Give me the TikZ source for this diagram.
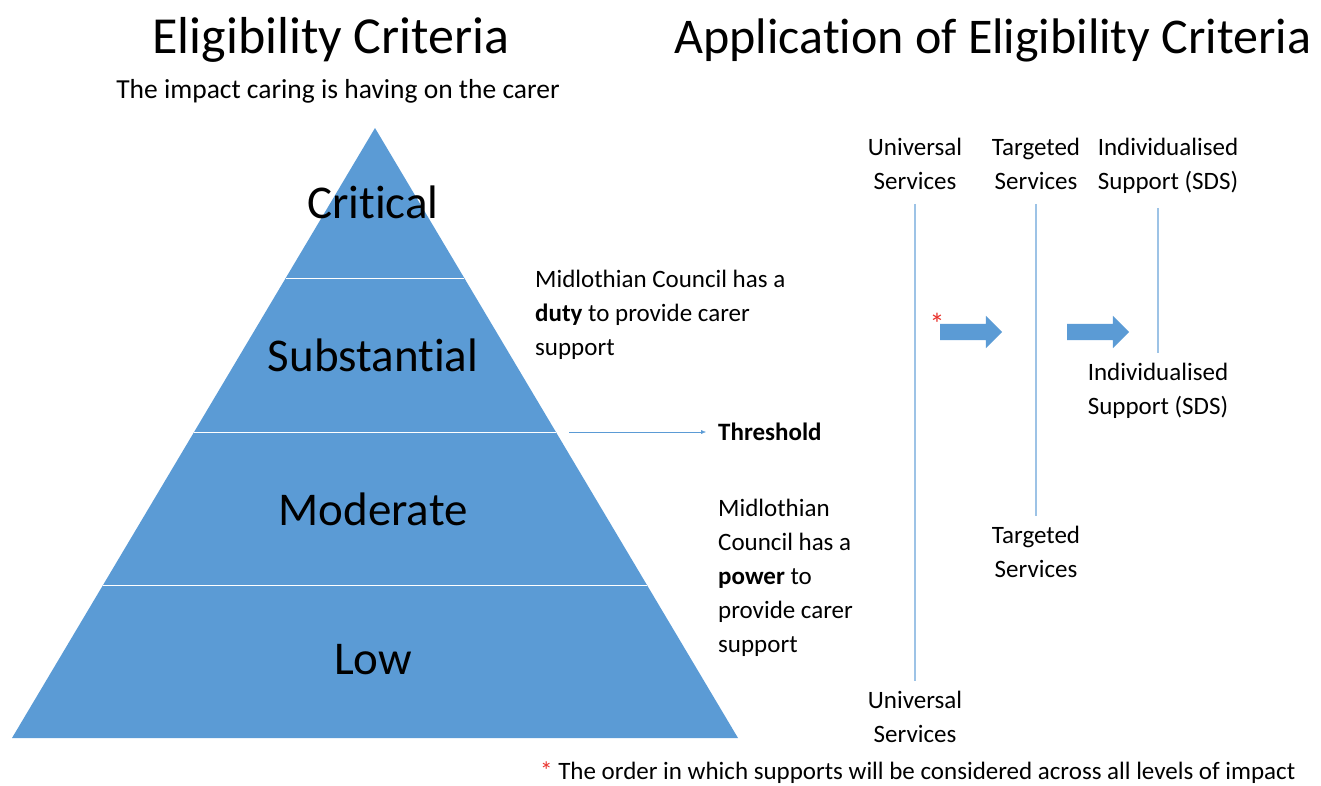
\documentclass[tikz,border=0pt]{standalone}
\usepackage{fontspec}
\setmainfont{Carlito}[RawFeature={-liga;-clig;-calt;-dlig}]
\usetikzlibrary{shapes.arrows,arrows.meta}
\definecolor{tierblue}{HTML}{5B9BD5}
\definecolor{lineblue}{HTML}{9DC3E6}
\definecolor{starred}{HTML}{E8302A}

\begin{document}
\begin{tikzpicture}
[
x=1pt, y=-1pt,
title/.style={font=\fontsize{50}{56}\selectfont, inner sep=0},
subtitle/.style={font=\fontsize{27.5}{30}\selectfont, inner sep=0},
tier/.style={font=\fontsize{47}{52}\selectfont, inner sep=0},
note/.style={font=\fontsize{25}{34}\selectfont, align=left, inner sep=0},
service/.style={font=\fontsize{25}{34}\selectfont, align=center, inner sep=0},
level/.style={draw=lineblue, line width=1.2pt},
flow/.style={single arrow, fill=tierblue, minimum height=62pt, text height=8pt, text depth=8pt,
             single arrow head extend=8pt, single arrow head indent=0pt, inner sep=0}
]
\useasboundingbox (0,0) rectangle (1321,785);

%Pyramid
\fill[tierblue] (375,128) -- (738,738) -- (12,738) -- cycle;
\draw[white, thin] (286,278) -- (464,278);
\draw[white, thin] (194,432) -- (556,432);
\draw[white, thin] (103,585) -- (647,585);

%Nodes
\node[title, font=\fontsize{52}{56}\selectfont] (crit_title) at (331,40) {Eligibility Criteria};
\node[subtitle] (impact)       at (338,91)    {The impact caring is having on the carer};
\node[title]    (app_title)    at (993,40)    {Application of Eligibility Criteria};

\node[tier]     (critical)     at (373,202)   {Critical};
\node[tier]     (substantial)  at (373,355)   {Substantial};
\node[tier]     (moderate)     at (373,509)   {Moderate};
\node[tier]     (low)          at (373,660)   {Low};

\node[note, anchor=west] (duty)      at (535,315) {Midlothian Council has a\\\textbf{duty} to provide carer\\support};
\node[note, anchor=west] (threshold) at (718,432) {\textbf{Threshold}};
\node[note, anchor=west] (power)     at (718,578) {Midlothian\\Council has a\\\textbf{power} to\\provide carer\\support};
\coordinate (edge) at (569,432);

\node[service]  (univ_top)     at (915,164)   {Universal\\Services};
\node[service]  (targ_top)     at (1036,164)  {Targeted\\Services};
\node[service]  (indiv_top)    at (1168,166)  {Individualised\\Support (SDS)};
\node[service]  (univ_bot)     at (915,717)   {Universal\\Services};
\node[service]  (targ_bot)     at (1036,552)  {Targeted\\Services};
\node[service]  (indiv_bot)    at (1158,391)  {Individualised\\Support (SDS)};

\node[flow]     (step_one)     at (967,332)   {};
\node[flow]     (step_two)     at (1094,332)  {};
\node[font=\fontsize{30}{30}\selectfont, text=starred, inner sep=0] (star) at (937,324) {*};

\node[font=\fontsize{25}{28}\selectfont, inner sep=0, anchor=west] (footnote) at (540,773)
  {\textcolor{starred}{*} The order in which supports will be considered across all levels of impact};

%Lines
\draw[tierblue, -{Latex[length=5pt,width=4pt]}] (edge) -- ([xshift=-12pt]threshold.west);
\draw[level, shorten <=14pt, shorten >=10pt] (univ_top.south) -- (univ_bot.north);
\draw[level, shorten <=14pt, shorten >=10pt] (targ_top.south) -- (targ_bot.north);
\draw[level, shorten <=14pt, shorten >=10pt] (indiv_bot.north |- indiv_top.south) -- (indiv_bot.north);

\end{tikzpicture}
\end{document}
